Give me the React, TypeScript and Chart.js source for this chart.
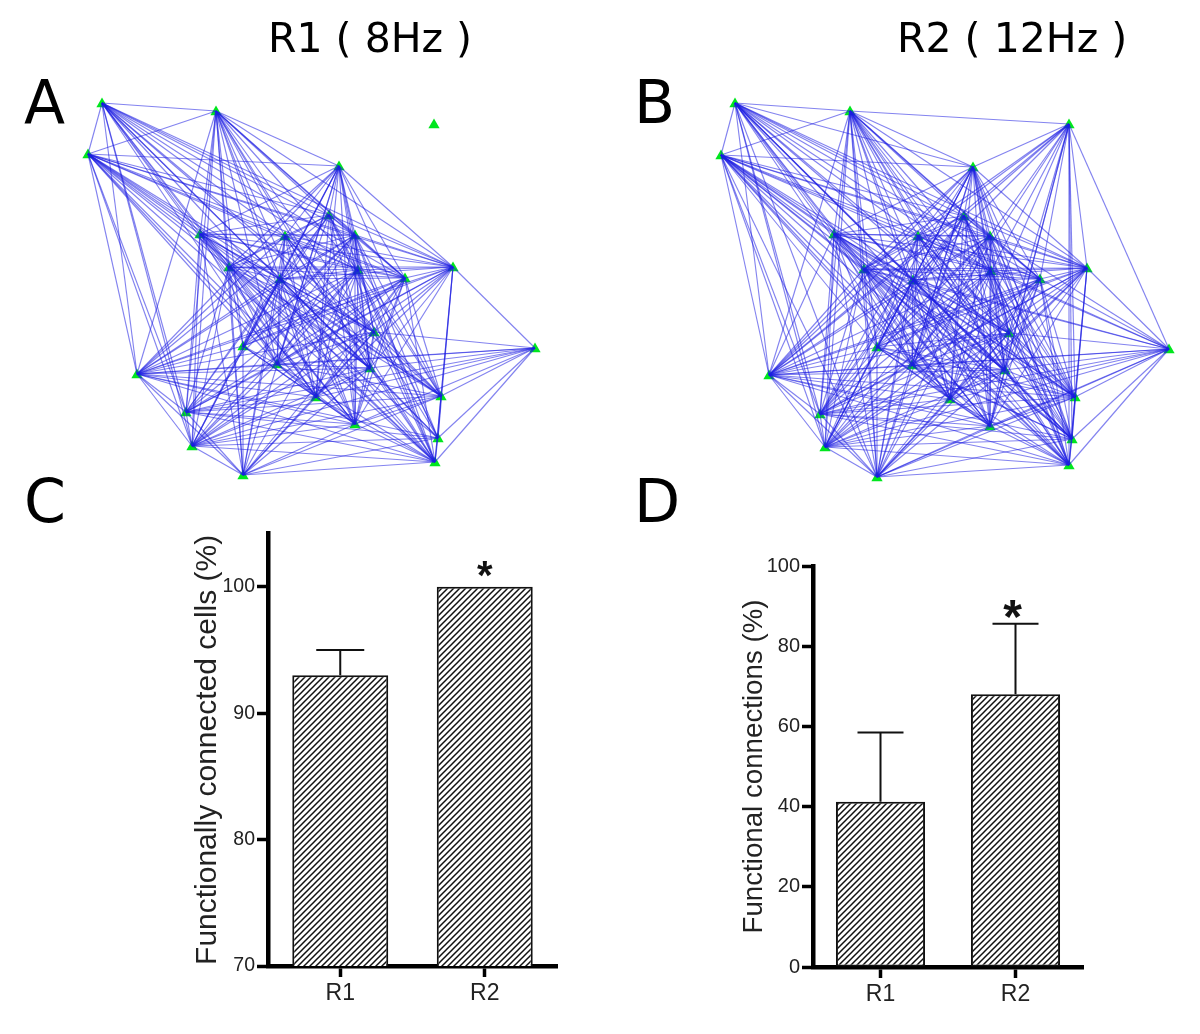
import React, { useEffect, useRef } from "react";
import { Chart, registerables } from "chart.js";

Chart.register(...registerables);

// Node positions, panel A
const nodesAX = [102, 216, 88, 339, 329, 200, 285, 355, 229, 358, 280, 405, 453, 374, 243, 535, 277, 370, 137, 316, 441, 186, 355, 438, 192, 243, 435, 434];
const nodesAY = [103, 111, 154, 166, 215, 234, 236, 235, 267, 270, 279, 278, 267, 332, 346, 348, 364, 368, 374, 397, 396, 412, 424, 438, 446, 475, 462, 124];
// Node positions, panel B
const nodesBX = [735, 850, 721, 973, 964, 834, 918, 990, 864, 991, 913, 1040, 1087, 1009, 877, 1169, 912, 1005, 769, 950, 1075, 820, 990, 1072, 825, 877, 1069, 1069];
const nodesBY = [103, 111, 155, 167, 216, 234, 236, 236, 269, 271, 280, 279, 268, 333, 347, 349, 365, 370, 375, 399, 397, 414, 426, 439, 447, 477, 465, 124];

// Connections: for each node, the higher-numbered nodes it links to
const linksA = [
  [1, 2, 4, 5, 6, 7, 8, 9, 10, 11, 12, 13, 16, 17, 18, 19, 20, 21, 22, 24, 26],
  [2, 3, 4, 5, 6, 7, 8, 9, 10, 11, 12, 13, 14, 16, 17, 18, 19, 21, 22, 24, 25, 26],
  [3, 4, 5, 6, 7, 8, 9, 10, 11, 12, 13, 16, 17, 18, 19, 20, 21, 22, 24, 26],
  [4, 5, 6, 7, 8, 9, 10, 11, 12, 13, 14, 16, 17, 18, 19, 20, 22, 24, 25],
  [5, 6, 7, 8, 9, 10, 11, 12, 14, 16, 17, 18, 19, 20, 21, 22, 23, 26],
  [6, 7, 8, 9, 10, 11, 12, 13, 16, 17, 19, 20, 21, 22, 24, 25, 26],
  [7, 8, 9, 10, 11, 12, 13, 14, 16, 17, 18, 19, 20, 22, 25, 26],
  [8, 9, 10, 11, 12, 13, 14, 16, 17, 18, 19, 20, 21, 22, 23, 24, 26],
  [9, 10, 11, 12, 13, 14, 16, 17, 19, 20, 21, 22, 23, 24, 25, 26],
  [10, 11, 12, 14, 16, 17, 18, 19, 20, 21, 22, 23, 24, 25, 26],
  [11, 12, 13, 14, 16, 17, 18, 19, 20, 21, 22, 23, 24, 25, 26],
  [12, 13, 14, 16, 17, 18, 19, 20, 21, 22, 24, 25, 26],
  [13, 14, 15, 16, 17, 18, 19, 20, 21, 22, 23, 24, 26],
  [15, 16, 17, 18, 19, 20, 22, 23, 24, 25, 26],
  [16, 18, 19, 22, 24, 25],
  [16, 17, 18, 19, 20, 21, 22, 23, 24, 26],
  [17, 18, 19, 20, 21, 22, 24, 26],
  [18, 19, 21, 22, 23, 24, 25, 26],
  [19, 20, 21, 22, 23, 24, 25, 26],
  [21, 22, 24, 25, 26],
  [21, 22, 23, 24, 25, 26],
  [22, 23, 24, 25, 26],
  [24, 25, 26],
  [24, 25, 26],
  [25, 26],
  [26],
  [],
  [],
];
// Extra connections that only panel B shows
const extraLinksB = [
  [3, 23, 25],
  [20, 23, 27],
  [14, 23, 25],
  [21, 23, 26, 27],
  [13, 24, 25, 27],
  [14, 18, 23],
  [15, 21, 23, 24, 27],
  [15, 25, 27],
  [15, 18, 27],
  [13, 15, 27],
  [15, 27],
  [15, 23, 27],
  [25, 27],
  [14, 21, 27],
  [17, 20, 21, 23],
  [25, 27],
  [23, 27],
  [20, 27],
  [27],
  [27],
  [27],
  [],
  [27],
  [27],
  [],
  [],
  [27],
  [],
];

// Bar panels
const barCategories = ["R1", "R2"];
const cellsMeans = [93, 100];
const cellsErrorTops = [95, null];
const cellsStars = [null, 100];
const cellsTicks = [70, 80, 90, 100];
const connMeans = [41.2, 68];
const connErrorTops = [58.5, 85.6];
const connStars = [null, 85.6];
const connTicks = [0, 20, 40, 60, 80, 100];

const NUMBER_FONT = "'Liberation Sans', Arial, sans-serif";
const HEADING_FONT = "'DejaVu Sans', sans-serif";

function networkConfig(xs: number[], ys: number[], links: number[][], bounds: any): any {
  const datasets: any[] = [];
  links.forEach((targets, a) => {
    targets.forEach((b) => {
      datasets.push({
        data: [
          { x: xs[a], y: ys[a] },
          { x: xs[b], y: ys[b] },
        ],
        showLine: true,
        borderColor: "rgba(30,30,225,0.55)",
        borderWidth: 1.15,
        pointRadius: 0,
        clip: false,
      });
    });
  });
  datasets.push({
    data: xs.map((x, i) => ({ x, y: ys[i] + 1 })),
    pointStyle: "triangle",
    pointRadius: 6.5,
    backgroundColor: "#00e61e",
    borderColor: "#00e61e",
    borderWidth: 0,
    showLine: false,
    clip: false,
  });
  return {
    type: "scatter",
    data: { datasets },
    options: {
      animation: false,
      responsive: false,
      layout: { padding: 0, autoPadding: false },
      plugins: { legend: { display: false }, tooltip: { enabled: false } },
      scales: {
        x: { type: "linear", display: false, min: bounds.x0, max: bounds.x1 },
        y: { type: "linear", display: false, min: bounds.y0, max: bounds.y1, reverse: true },
      },
    },
  };
}

function hatch(): CanvasPattern {
  const tile = document.createElement("canvas");
  tile.width = 6;
  tile.height = 6;
  const c = tile.getContext("2d")!;
  c.fillStyle = "#fff";
  c.fillRect(0, 0, 6, 6);
  c.strokeStyle = "#111";
  c.lineWidth = 1.5;
  c.beginPath();
  c.moveTo(-1, 7);
  c.lineTo(7, -1);
  c.moveTo(-1, 1);
  c.lineTo(1, -1);
  c.moveTo(5, 7);
  c.lineTo(7, 5);
  c.stroke();
  return c.createPattern(tile, "repeat")!;
}

const errorBars = {
  id: "errorBars",
  afterDatasetsDraw(chart: any, _a: any, opts: any) {
    const { ctx, scales } = chart;
    const meta = chart.getDatasetMeta(0);
    ctx.save();
    ctx.strokeStyle = "#111";
    ctx.fillStyle = "#111";
    ctx.lineWidth = 2;
    opts.tops.forEach((top: number | null, i: number) => {
      if (top == null) return;
      const x = meta.data[i].x;
      const y0 = scales.y.getPixelForValue(opts.means[i]);
      const y1 = scales.y.getPixelForValue(top);
      ctx.beginPath();
      ctx.moveTo(x, y0);
      ctx.lineTo(x, y1);
      ctx.moveTo(x - opts.cap, y1);
      ctx.lineTo(x + opts.cap, y1);
      ctx.stroke();
    });
    ctx.textAlign = "center";
    ctx.textBaseline = "alphabetic";
    ctx.font = `bold ${opts.starSize}px ${NUMBER_FONT}`;
    opts.stars.forEach((v: number | null, i: number) => {
      if (v == null) return;
      ctx.fillText("*", meta.data[i].x + opts.starDx, scales.y.getPixelForValue(v) + opts.starDy);
    });
    ctx.restore();
  },
};

function barConfig(p: any): any {
  return {
    type: "bar",
    data: {
      labels: barCategories,
      datasets: [
        {
          data: p.means,
          backgroundColor: hatch(),
          borderColor: "#111",
          borderWidth: 2,
          borderSkipped: false,
          barPercentage: p.barPct,
          categoryPercentage: 0.8,
        },
      ],
    },
    plugins: [errorBars],
    options: {
      animation: false,
      responsive: false,
      layout: { autoPadding: false, padding: { top: p.padTop, right: p.padRight, left: 0, bottom: 0 } },
      plugins: {
        legend: { display: false },
        tooltip: { enabled: false },
        errorBars: p.err,
      },
      scales: {
        x: {
          afterFit: (s: any) => {
            s.height = p.bottom;
          },
          grid: { drawOnChartArea: false, offset: false, tickLength: 11, tickWidth: 3.5, tickColor: "#000" },
          border: { color: "#000", width: 4.5 },
          ticks: { color: "#222", font: { family: NUMBER_FONT, size: 23 }, padding: 3, maxRotation: 0 },
        },
        y: {
          min: p.min,
          max: p.max,
          afterFit: (s: any) => {
            s.width = p.left;
          },
          afterBuildTicks: (s: any) => {
            s.ticks = p.ticks.map((value: number) => ({ value }));
          },
          grid: { drawOnChartArea: false, tickLength: 11, tickWidth: 3.5, tickColor: "#000" },
          border: { color: "#000", width: 4.5 },
          ticks: { color: "#222", font: { family: NUMBER_FONT, size: p.tickSize }, padding: 2 },
          title: {
            display: true,
            text: p.title,
            color: "#222",
            font: { family: NUMBER_FONT, size: p.titleSize, weight: "normal" },
            padding: { top: p.titleLeft, bottom: 0 },
          },
        },
      },
    },
  };
}

const unite = (a: number[][], b: number[][]) => a.map((row, i) => [...row, ...b[i]]);

function Panel({ config, style }: { config: () => any; style: React.CSSProperties }) {
  const ref = useRef<HTMLCanvasElement>(null);
  useEffect(() => {
    const chart = new Chart(ref.current!, config());
    return () => chart.destroy();
  }, []);
  return (
    <canvas
      ref={ref}
      width={style.width as number}
      height={style.height as number}
      style={{ position: "absolute", display: "block", ...style }}
    />
  );
}

function Label({ text, x, y, size }: { text: string; x: number; y: number; size: number }) {
  return (
    <div
      style={{
        position: "absolute",
        left: x,
        top: y,
        fontFamily: HEADING_FONT,
        fontSize: size,
        lineHeight: 1,
        color: "#000",
        whiteSpace: "pre",
      }}
    >
      {text}
    </div>
  );
}

export default function App() {
  return (
    <div style={{ position: "absolute", left: 0, top: 0, width: 1200, height: 1034, background: "#fff", overflow: "hidden" }}>
      <Panel
        style={{ left: 0, top: 60, width: 600, height: 440 }}
        config={() => networkConfig(nodesAX, nodesAY, linksA, { x0: 0, x1: 600, y0: 60, y1: 500 })}
      />
      <Panel
        style={{ left: 620, top: 60, width: 580, height: 440 }}
        config={() => networkConfig(nodesBX, nodesBY, unite(linksA, extraLinksB), { x0: 620, x1: 1200, y0: 60, y1: 500 })}
      />
      <Panel
        style={{ left: 180, top: 520, width: 390, height: 505 }}
        config={() =>
          barConfig({
            means: cellsMeans,
            min: 70,
            max: 104.2,
            ticks: cellsTicks,
            title: "Functionally connected cells (%)",
            titleSize: 30,
            titleLeft: 10,
            tickSize: 19.5,
            left: 88,
            bottom: 59,
            padTop: 10,
            padRight: 13,
            barPct: 0.83,
            err: { tops: cellsErrorTops, means: cellsMeans, stars: cellsStars, cap: 24, starSize: 40, starDx: 0, starDy: 2 },
          })
        }
      />
      <Panel
        style={{ left: 730, top: 552, width: 370, height: 473 }}
        config={() =>
          barConfig({
            means: connMeans,
            min: 0,
            max: 100,
            ticks: connTicks,
            title: "Functional connections (%)",
            titleSize: 27.7,
            titleLeft: 8,
            tickSize: 20,
            left: 83,
            bottom: 58,
            padTop: 10,
            padRight: 17,
            barPct: 0.825,
            err: { tops: connErrorTops, means: connMeans, stars: connStars, cap: 23, starSize: 48, starDx: -3, starDy: 9 },
          })
        }
      />
      <Label text="R1 ( 8Hz )" x={268} y={18} size={41} />
      <Label text="R2 ( 12Hz )" x={897} y={18} size={41} />
      <Label text="A" x={24} y={72} size={60} />
      <Label text="B" x={634} y={72} size={60} />
      <Label text="C" x={24} y={471} size={60} />
      <Label text="D" x={634} y={471} size={60} />
    </div>
  );
}
